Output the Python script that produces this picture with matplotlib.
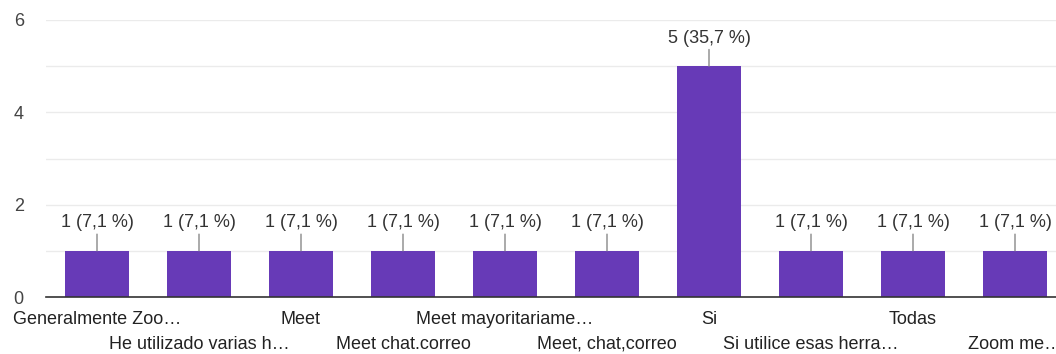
import matplotlib
matplotlib.use("Agg")
import matplotlib.pyplot as plt
import numpy as np

# Respuestas y conteos
categories = ["Generalmente Zoo…", "He utilizado varias h…", "Meet", "Meet chat.correo",
              "Meet mayoritariame…", "Meet, chat,correo", "Si", "Si utilice esas herra…",
              "Todas", "Zoom me…"]
counts = [1, 1, 1, 1, 1, 1, 5, 1, 1, 1]
percents = ["7,1", "7,1", "7,1", "7,1", "7,1", "7,1", "35,7", "7,1", "7,1", "7,1"]

plt.rcParams['font.family'] = ['Liberation Sans', 'DejaVu Sans']

fig = plt.figure(figsize=(10.56, 3.54), dpi=100)
ax = fig.add_axes([46 / 1056, 1 - 297 / 354, 1020 / 1056, 277 / 354])

x = np.arange(len(categories))
ax.bar(x, counts, width=0.62, color="#673ab7", zorder=3)

ax.set_xlim(-0.5, len(categories) - 0.5)
ax.set_ylim(0, 6)
ax.set_yticks([0, 2, 4, 6])
ax.set_yticks(range(7), minor=True)
ax.grid(axis="y", which="both", color="#ebebeb", linewidth=1, zorder=0)
ax.tick_params(axis="y", which="both", length=0, labelsize=13, labelcolor="#444444", pad=16)

for s in ["top", "right", "left"]:
    ax.spines[s].set_visible(False)
ax.spines["bottom"].set_color("#333333")
ax.spines["bottom"].set_linewidth(1.2)
ax.spines["bottom"].set_zorder(4)

# etiquetas en dos filas alternadas
ax.set_xticks(x)
ax.set_xticklabels([])
ax.tick_params(axis="x", length=0)
for i, c in enumerate(categories):
    off = -16.5 if i % 2 == 0 else -34
    ax.annotate(c, xy=(x[i], 0), xycoords=("data", "axes fraction"), xytext=(0, off),
                textcoords="offset points", ha="center", va="center",
                fontsize=13, color="#222222", annotation_clip=False)

for xi, c, p in zip(x, counts, percents):
    ax.annotate("", xy=(xi, c), xytext=(0, 12), textcoords="offset points",
                arrowprops=dict(arrowstyle="-", color="#888888", lw=1, shrinkA=0, shrinkB=0))
    ax.annotate(f"{c} ({p} %)", xy=(xi, c), xytext=(0, 14), textcoords="offset points",
                ha="center", va="bottom", fontsize=13, color="#333333")

fig.savefig("out.png", dpi=100)
